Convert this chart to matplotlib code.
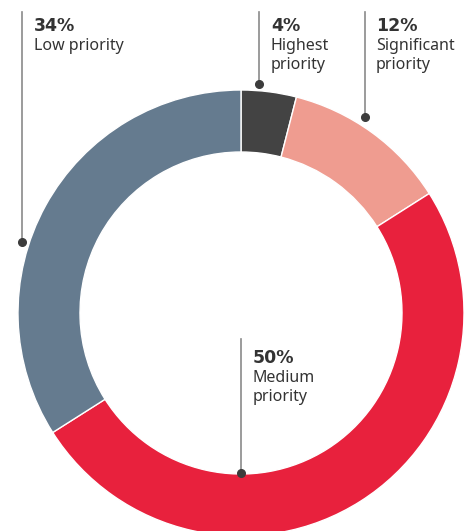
import matplotlib.pyplot as plt

W, H = 474, 531

# data
labels = ['Highest priority', 'Significant priority', 'Medium priority', 'Low priority']
shares = [4, 12, 50, 34]
colors = ['#434343', '#ef9c90', '#e8213d', '#657b8f']

plt.rcParams['font.family'] = ['Noto Sans', 'DejaVu Sans']

fig = plt.figure(figsize=(W / 100, H / 100), dpi=100)
ax = fig.add_axes([0, 0, 1, 1])

# ring, clockwise from the top
ax.pie(shares, colors=colors, startangle=90, counterclock=False,
       center=(241, H - 313), radius=223,
       wedgeprops=dict(width=62, edgecolor='white', linewidth=1))

ax.set_xlim(0, W)
ax.set_ylim(0, H)
ax.set_aspect('auto')
ax.axis('off')


def py(y):
    return H - y


txt = '#333333'
# (line x, line top, dot y, text x, baseline of pct, pct text, text lines)
callouts = [
    (22.5, 12, 242, 34, 31, '34%', ['Low priority']),
    (259.5, 12, 84, 271, 31, '4%', ['Highest', 'priority']),
    (365, 12, 117, 376, 31, '12%', ['Significant', 'priority']),
    (241.5, 339, 473, 253, 363, '50%', ['Medium', 'priority']),
]

for lx, top, dot, tx, base, pct, lines in callouts:
    ax.plot([lx, lx], [py(top), py(dot)], color='#8a8a8a', lw=1.2, zorder=3)
    ax.plot(lx, py(dot), 'o', color='#3c3c3c', ms=5.5, zorder=4)
    ax.text(tx, py(base), pct, fontsize=12.5, fontweight='bold', color=txt,
            family=['DejaVu Sans'], va='baseline', ha='left')
    for i, s in enumerate(lines):
        ax.text(tx, py(base + 19 + 19 * i), s, fontsize=11.5, color=txt,
                va='baseline', ha='left')

fig.savefig('out.png', dpi=100)
